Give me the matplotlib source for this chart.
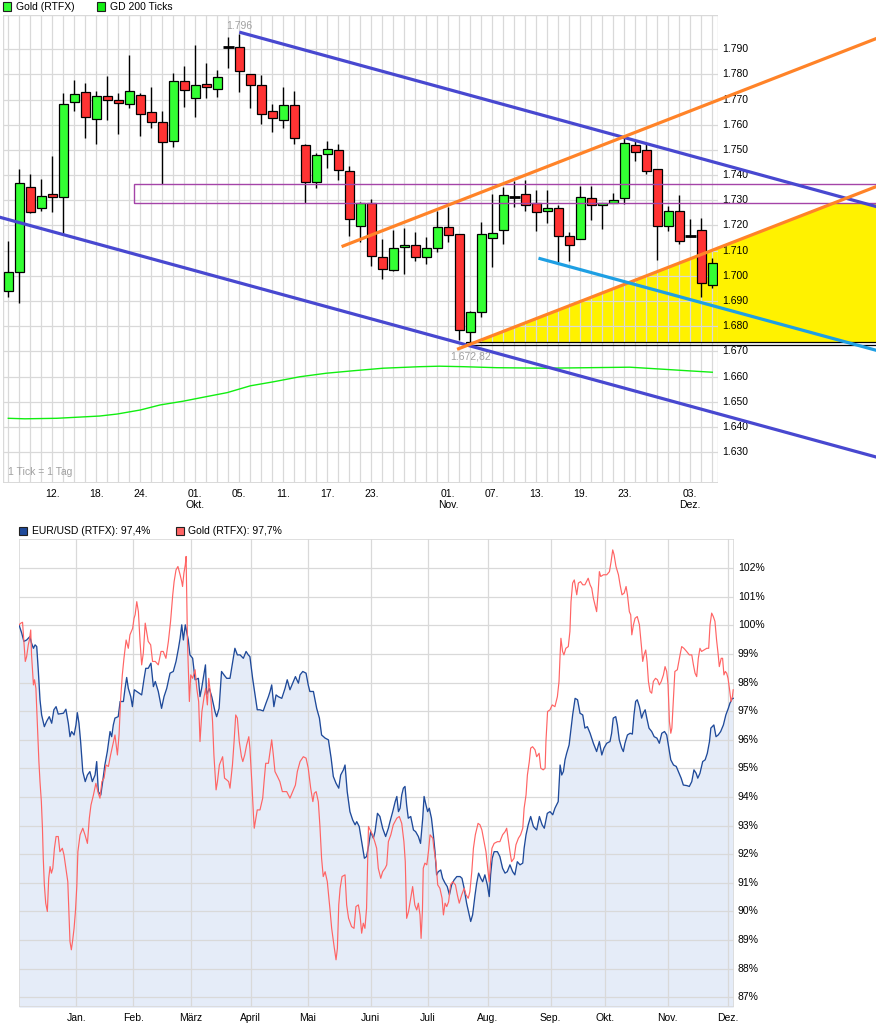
import matplotlib
matplotlib.use("Agg")
import matplotlib.pyplot as plt
from matplotlib.patches import Rectangle, Polygon
import numpy as np

plt.rcParams['font.family'] = ['Liberation Sans', 'DejaVu Sans']
FS = 7.5

# ---------------- data: Gold daily candles (Sep 6 - Dec 5, 2012) ----------------
opens = [1.6939, 1.7014, 1.7354, 1.7268, 1.7324, 1.7312, 1.7689, 1.7729, 1.7622, 1.7713,
         1.7700, 1.7681, 1.7717, 1.7650, 1.7610, 1.7534, 1.7773, 1.7705, 1.7761, 1.7741,
         1.7908, 1.7908, 1.7801, 1.7757, 1.7654, 1.7618, 1.7678, 1.7519, 1.7372, 1.7483,
         1.7499, 1.7416, 1.7198, 1.7291, 1.7076, 1.7022, 1.7113, 1.7121, 1.7074, 1.7109,
         1.7195, 1.7165, 1.6776, 1.6856, 1.7149, 1.7182, 1.7315, 1.7324, 1.7288, 1.7258,
         1.7268, 1.7157, 1.7145, 1.7308, 1.7280, 1.7291, 1.7308, 1.7519, 1.7499, 1.7423,
         1.7197, 1.7256, 1.7160, 1.7181, 1.6964]
highs = [1.7138, 1.7424, 1.7403, 1.7385, 1.7476, 1.7725, 1.7778, 1.7765, 1.7734, 1.7794,
         1.7725, 1.7877, 1.7725, 1.7750, 1.7655, 1.7805, 1.7832, 1.7917, 1.7846, 1.7818,
         1.7950, 1.7960, 1.7803, 1.7798, 1.7681, 1.7750, 1.7733, 1.7524, 1.7487, 1.7536,
         1.7525, 1.7436, 1.7293, 1.7305, 1.7146, 1.7182, 1.7191, 1.7174, 1.7154, 1.7259,
         1.7272, 1.7168, 1.6861, 1.7214, 1.7325, 1.7354, 1.7378, 1.7381, 1.7341, 1.7341,
         1.7281, 1.7175, 1.7357, 1.7357, 1.7290, 1.7330, 1.7546, 1.7537, 1.7527, 1.7425,
         1.7277, 1.7320, 1.7226, 1.7229, 1.7070]
lows = [1.6917, 1.6893, 1.7250, 1.7259, 1.7255, 1.7162, 1.7655, 1.7546, 1.7525, 1.7620,
        1.7562, 1.7668, 1.7557, 1.7589, 1.7364, 1.7510, 1.7672, 1.7632, 1.7705, 1.7709,
        1.7825, 1.7732, 1.7668, 1.7604, 1.7570, 1.7586, 1.7523, 1.7291, 1.7348, 1.7427,
        1.7381, 1.7159, 1.7136, 1.7039, 1.6986, 1.7020, 1.7007, 1.7060, 1.7047, 1.7096,
        1.7136, 1.6745, 1.67282, 1.6838, 1.7034, 1.7126, 1.7272, 1.7259, 1.7179, 1.7209,
        1.7056, 1.7060, 1.7145, 1.7222, 1.7187, 1.7290, 1.7284, 1.7457, 1.7405, 1.7063,
        1.7179, 1.7126, 1.7155, 1.6915, 1.6950]
closes = [1.7014, 1.7368, 1.7252, 1.7318, 1.7312, 1.7681, 1.7721, 1.7630, 1.7713, 1.7699,
          1.7685, 1.7733, 1.7642, 1.7610, 1.7530, 1.7773, 1.7737, 1.7757, 1.7749, 1.7789,
          1.7908, 1.7813, 1.7757, 1.7642, 1.7626, 1.7678, 1.7546, 1.7372, 1.7480, 1.7503,
          1.7419, 1.7226, 1.7291, 1.7079, 1.7026, 1.7109, 1.7121, 1.7076, 1.7109, 1.7193,
          1.7161, 1.6785, 1.6856, 1.7165, 1.7169, 1.7320, 1.7315, 1.7280, 1.7252, 1.7268,
          1.7159, 1.7121, 1.7312, 1.7280, 1.7288, 1.7300, 1.7527, 1.7491, 1.7418, 1.7197,
          1.7256, 1.7137, 1.7158, 1.6970, 1.7050]

# GD 200 (moving average), read at candle positions
ma_day = [0, 1.5, 4.4, 8.3, 9.9, 12, 13.8, 15.9, 18, 19.9, 22, 24.1, 26.5, 28.9, 31.4,
          34.1, 37.4, 39.2, 41.4, 44.4, 48.9, 56.5, 59.5, 61.7, 64]
ma_val = [1.6434, 1.6432, 1.6434, 1.6443, 1.6451, 1.6467, 1.6487, 1.6502, 1.6520, 1.6536,
          1.6563, 1.6579, 1.6599, 1.6613, 1.6623, 1.6633, 1.6639, 1.6641, 1.6639, 1.6635,
          1.6633, 1.6637, 1.6629, 1.6623, 1.6617]

top_tick_days = [4, 8, 12, 17, 21, 25, 29, 33, 40, 44, 48, 52, 56, 62]
top_tick_labels = ["12.", "18.", "24.", "01.\nOkt.", "05.", "11.", "17.", "23.",
                   "01.\nNov.", "07.", "13.", "19.", "23.", "03.\nDez."]
price_levels = [1.63, 1.64, 1.65, 1.66, 1.67, 1.68, 1.69, 1.70, 1.71, 1.72,
                1.73, 1.74, 1.75, 1.76, 1.77, 1.78, 1.79]

# drawn trend lines / zones (day index, price)
chan_hi_days, chan_hi_prices = [21.0, 79.0], [1.7968, 1.7274]
chan_lo_days, chan_lo_prices = [-0.8, 79.0], [1.7233, 1.6279]
orange_hi_days, orange_hi_prices = [30.3, 79.0], [1.7116, 1.7944]
orange_lo_days, orange_lo_prices = [40.8, 79.0], [1.6708, 1.7356]
cyan_days, cyan_prices = [48.2, 79.0], [1.7070, 1.6703]
zone_days, zone_prices = [11.45, 82.0], [1.7289, 1.7364]
lowbox_days, lowbox_prices = [41.6, 82.0], [1.6726, 1.6737]
peak_day, peak_price = 21, 1.796
low_day, low_price = 42, 1.67282

# ---------------- data: comparison chart (Dec 2011 - Dec 2012) ----------------
eur_day = [0.0, 1.0, 1.8, 2.8, 4.0, 4.6, 5.3, 5.9, 6.5, 7.1, 7.7, 8.3, 9.3, 10.1, 11.1, 12.0,
           12.8, 13.6, 14.4, 16.3, 17.2, 18.1, 18.7, 19.3, 20.2, 20.9, 21.4, 22.0, 22.6,
           23.4, 24.3, 25.1, 26.0, 26.9, 27.9, 28.5, 29.1, 30.0, 30.7, 31.5, 32.4, 33.4,
           34.0, 34.6, 35.2, 36.4, 37.1, 38.3, 38.9, 39.5, 40.1, 41.0, 41.6, 42.3, 43.2,
           44.1, 45.0, 45.9, 46.5, 47.4, 48.4, 49.3, 50.0, 51.1, 52.3, 53.2, 54.2, 55.4,
           56.6, 57.6, 58.5, 59.1, 59.7, 60.3, 61.0, 62.1, 62.7, 63.7, 64.6, 65.8, 66.4,
           67.0, 67.6, 68.4, 68.8, 69.8, 70.7, 71.9, 72.5, 73.4, 74.3, 75.2, 76.2, 77.4,
           78.4, 79.2, 80.1, 81.1, 82.3, 83.3, 84.1, 84.7,
           85.7, 86.6, 87.4, 88.4, 89.6, 90.6, 91.5, 92.1, 92.7, 93.5, 94.3, 95.1, 96.4,
           97.6, 98.4, 99.4, 100.4, 101.4, 102.5, 103.1, 104.1, 105.3, 106.1, 106.7, 108.0,
           109.2, 110.2, 111.0, 112.3, 113.5, 114.5, 115.3, 116.3, 117.3, 118.0, 119.0,
           119.6, 120.4, 121.4, 122.4, 123.3, 123.9, 124.8, 125.7, 126.7, 127.5, 128.3,
           129.0, 130.0, 130.6, 131.5, 132.4, 133.4, 134.5, 135.5, 136.1, 137.1, 138.0,
           138.6, 139.2, 139.8, 140.4, 141.0, 141.6, 142.2, 142.8, 143.7, 144.7, 145.5,
           146.5, 147.3, 148.1, 148.6, 149.3, 149.9, 150.5, 151.3, 152.0, 152.6, 153.2,
           153.8, 154.7, 155.4, 156.3, 157.1, 157.9, 158.7, 159.6, 160.6, 161.8, 162.5,
           163.3, 164.2, 165.0, 165.7, 166.4, 167.3, 167.9, 168.6, 169.4, 170.1, 170.9,
           171.8, 172.5, 173.0, 173.6, 174.3, 175.5,
           176.4, 177.4, 178.3, 179.1, 180.1, 181.1, 181.9, 182.8, 183.8, 184.8, 185.3,
           186.0, 186.8, 187.7, 188.7, 189.9, 190.9, 191.9, 192.7, 193.8, 194.8, 195.8,
           196.6, 197.8, 198.5, 199.1, 199.7, 200.3, 200.9, 201.8, 202.4, 203.1, 204.0,
           204.9, 205.8, 206.8, 207.6, 208.5, 209.5, 210.7, 211.9, 212.9, 213.8, 214.6,
           215.6, 216.8, 217.4, 218.0, 218.9, 219.5, 220.2, 221.1, 221.7, 222.3, 223.2,
           224.2, 225.0, 225.6, 226.2, 226.8, 227.6, 228.4, 229.0, 229.7, 230.3, 231.1,
           232.1, 233.0, 234.0, 234.9, 235.8, 236.8, 237.6, 238.2, 239.1, 240.1, 241.1,
           241.9, 242.9, 243.7, 245.0, 245.9, 246.8, 247.6, 248.4, 249.0, 249.8, 250.8,
           251.7, 252.5, 253.3, 253.8, 254.3, 254.9, 255.7, 256.5, 257.4, 258.4, 259.3,
           260.2, 260.8, 261.7, 262.0]
eur_pct = [100.02, 99.73, 99.44, 99.49, 99.61, 99.38, 99.20, 99.32, 99.26, 98.39, 97.40,
           96.87, 96.46, 96.64, 96.81, 96.58, 97.05, 97.16, 96.90, 96.93, 97.07, 96.58,
           96.11, 96.29, 96.17, 96.52, 96.95, 96.58, 95.94, 94.89, 94.54, 94.77, 94.89,
           94.54, 94.77, 95.24, 94.19, 94.07, 94.54, 95.12, 95.59, 96.29, 96.11, 96.52,
           96.76, 96.81, 97.34, 97.34, 97.80, 98.18, 97.80, 97.51, 97.16, 97.75, 97.69,
           97.63, 97.57, 98.15, 98.50, 98.50, 98.68, 97.86, 98.04, 97.69, 97.10, 97.51,
           97.80, 98.33, 98.39, 98.74, 99.20, 99.55, 100.02, 99.49, 100.02, 99.49, 98.97,
           98.85, 98.10, 98.15, 97.51, 97.80, 98.15, 98.62, 97.57, 97.80, 97.51, 96.99,
           96.81, 97.10, 98.39, 98.27, 98.15, 98.15, 98.74, 99.20, 98.97, 98.97, 98.85,
           99.09, 98.97, 98.91,
           98.15, 97.57, 97.05, 97.05, 97.01, 97.28, 97.51, 97.69, 97.92, 97.16, 97.57,
           97.51, 97.45, 97.80, 98.10, 97.75, 97.98, 98.21, 97.98, 98.27, 98.39, 98.33,
           97.92, 97.69, 97.69, 97.10, 96.76, 96.17, 96.06, 96.00, 95.36, 94.72, 94.48,
           94.31, 94.77, 94.95, 95.12, 94.19, 93.49, 93.20, 93.03, 93.14, 92.97, 92.44,
           91.86, 91.92, 92.33, 92.79, 92.56, 92.79, 93.43, 93.32, 92.91, 92.62, 92.91,
           93.14, 93.49, 93.84, 94.02, 93.49, 93.61, 94.07, 94.31, 94.37, 93.72, 93.26,
           93.32, 92.85, 92.79, 92.62, 92.38, 93.26, 94.02, 93.72, 93.49, 93.61, 93.26,
           92.68, 92.09, 91.28, 91.39, 91.45, 91.16, 90.99, 90.87, 90.58, 90.93, 91.10,
           91.22, 91.22, 91.16, 90.81, 90.29, 89.94, 89.65, 89.88, 90.58, 90.99, 91.34,
           91.16, 91.04, 91.28, 90.93, 90.52, 91.28, 91.86, 92.09, 92.09,
           91.92, 91.51, 91.34, 91.39, 91.63, 91.39, 91.28, 91.74, 91.63, 91.69, 92.21,
           92.68, 93.03, 93.32, 92.97, 92.85, 93.32, 93.03, 92.91, 93.43, 93.49, 93.38,
           93.61, 93.84, 95.12, 94.77, 94.89, 95.30, 95.53, 95.82, 96.29, 96.87, 97.45,
           97.40, 96.93, 96.87, 96.41, 96.46, 96.23, 95.88, 95.59, 95.94, 95.47, 95.71,
           95.88, 95.94, 96.23, 96.76, 96.81, 96.52, 96.00, 95.71, 95.59, 95.88, 96.17,
           96.23, 96.20, 96.87, 97.34, 97.40, 97.16, 96.76, 96.93, 97.05, 96.76, 96.41,
           96.29, 96.11, 96.06, 95.88, 96.23, 96.29, 96.17, 95.82, 95.30, 95.12, 95.07,
           94.89, 94.66, 94.42, 94.40, 94.37, 94.54, 94.95, 94.83, 94.66, 94.83, 95.24,
           95.30, 95.53, 95.94, 96.41, 96.46, 96.52, 96.11, 96.17, 96.29, 96.52, 96.87,
           97.10, 97.28, 97.45, 97.45]

gold_day = [0.0, 0.7, 1.3, 1.8, 2.3, 2.8, 3.4, 3.8, 4.3, 4.6, 5.3, 5.7, 6.2, 6.8, 7.3, 7.7,
            8.2, 8.6, 8.9, 9.3, 9.8, 10.4, 10.9, 11.4, 11.9, 12.4, 13.0, 13.6, 14.4, 15.0,
            15.9, 16.5, 17.2, 17.9, 18.2, 18.7, 19.2, 19.7, 20.2, 20.7, 21.2, 21.6, 22.4,
            23.4, 24.2, 25.1, 25.8, 26.4, 27.3, 28.2, 29.1, 29.7, 30.4, 31.2, 31.9, 32.8,
            33.6, 34.4, 35.2, 36.1, 36.7, 37.3, 37.9, 38.5, 39.3, 40.1, 40.7, 41.7, 42.2,
            42.6, 43.2, 43.8, 44.4, 45.0, 45.6, 46.3, 46.8, 47.4, 48.3, 49.0, 50.0, 51.1,
            52.1, 52.9, 53.9, 54.8, 55.6, 56.4, 56.9, 57.6, 58.3, 59.1, 59.7, 60.0, 60.5,
            61.0, 61.3, 61.8, 62.5, 63.0, 63.7, 64.6, 65.2, 65.9, 66.4, 67.1, 67.9, 68.5,
            69.1, 69.6, 70.3, 71.0, 71.5, 72.3, 72.8, 73.5, 74.0, 74.7, 75.4, 76.2, 76.9,
            77.4, 78.3, 78.9, 79.5, 80.1, 80.8, 81.6, 82.1, 82.8, 83.5, 84.3, 84.7,
            85.4, 86.0, 86.3, 86.9, 87.4, 88.4, 89.4, 89.9, 90.5, 91.5, 92.1, 92.7, 93.3,
            93.9, 94.8, 95.7, 96.6, 98.2, 99.4, 100.4, 101.4, 102.1, 103.1, 104.3, 105.3,
            106.1, 107.0, 107.8, 108.3, 109.0, 109.8, 110.4, 111.0, 111.6, 112.3, 113.1,
            114.1, 114.7, 115.6, 116.3, 116.8, 117.3, 117.8, 118.5, 119.6, 120.2, 120.9,
            122.0, 122.9, 123.6, 124.5, 125.1, 125.7, 126.3, 126.9, 127.5, 128.2, 128.8,
            129.7, 130.5, 131.2, 131.8, 132.7, 133.4, 134.3, 134.9, 135.5, 136.4, 137.3,
            138.6, 139.5, 140.4, 141.2, 141.7, 142.2, 142.9, 143.7, 144.4, 145.2, 145.9,
            146.5, 147.1, 147.5, 148.0, 148.3, 148.9, 149.6, 150.2, 150.8, 151.8, 152.2,
            153.0, 153.6, 154.4, 155.2, 155.7, 156.3, 156.9, 157.6, 158.3, 159.1, 160.1,
            160.8, 161.5, 162.4, 163.3, 164.0, 164.8, 165.4, 166.1, 166.7, 167.4, 168.4,
            169.1, 169.8, 170.6, 171.3, 171.8, 172.5, 173.0, 173.5, 174.3, 175.5,
            176.4, 177.4, 178.3, 178.9, 179.5, 180.1, 180.7, 181.6, 182.3, 183.2, 184.0,
            184.8, 185.3, 186.0, 186.5, 187.2, 187.7, 188.4, 189.3, 189.9, 190.8, 191.4,
            192.3, 193.0, 193.3, 193.9, 194.8, 195.6, 196.6, 197.5, 198.1, 198.5, 198.8,
            199.4, 199.9, 200.6, 201.5, 202.1, 202.5, 203.1, 203.7, 204.6, 205.2, 206.0,
            206.8, 207.6, 208.5, 208.8, 209.5, 210.1, 210.7, 211.3, 211.9, 212.5, 212.9,
            213.4, 214.4, 215.6, 216.6, 217.2, 217.8, 218.3, 219.0, 219.9, 220.5, 221.2,
            222.0, 222.7, 223.2, 223.9, 224.4, 224.8, 225.4, 226.0, 226.8, 227.6, 228.4,
            228.8, 229.3, 229.9, 230.4, 230.9, 231.5, 232.1, 232.7, 233.5, 234.2, 234.9,
            235.6, 236.4, 237.0, 237.6, 238.1, 238.6, 239.1, 239.5, 240.0, 240.6, 241.5,
            242.5, 243.1, 243.9, 244.9, 245.9, 246.8, 247.4, 248.0, 248.6, 249.2, 249.8,
            250.4, 251.3, 252.3, 253.0, 253.5, 254.1, 254.7, 255.3, 255.9, 256.5, 256.9,
            257.6, 258.1, 258.6, 259.1, 259.6, 260.1, 260.6, 261.2, 261.7, 262.0]
gold_pct = [100.02, 100.08, 100.11, 99.44, 98.74, 98.91, 99.32, 99.49, 99.84, 98.97, 97.92,
            98.10, 97.80, 96.41, 95.24, 94.54, 93.84, 92.91, 91.86, 90.93, 90.29, 90.00,
            91.16, 91.57, 91.34, 91.51, 92.21, 92.62, 92.62, 92.09, 92.21, 91.98, 91.51,
            91.04, 90.23, 88.95, 88.66, 89.00, 89.41, 90.00, 90.87, 92.09, 92.68, 92.91,
            92.68, 92.38, 93.26, 93.72, 94.07, 94.48, 94.13, 93.96, 94.54, 94.66, 95.12,
            95.07, 95.47, 95.82, 96.17, 95.47, 96.17, 97.45, 98.27, 98.85, 99.49, 99.20,
            99.67, 99.90, 100.25, 100.37, 100.83, 100.48, 99.44, 98.62, 99.03, 100.08,
            99.79, 99.44, 99.32, 98.74, 98.74, 98.62, 99.09, 99.09, 98.85, 99.44, 100.14,
            101.07, 101.53, 101.94, 102.06, 101.77, 101.53, 101.36, 101.83, 102.12, 102.41,
            99.44, 97.34, 98.27, 98.15, 98.45, 97.80, 97.34, 95.94, 96.99, 97.51, 97.80,
            97.22, 98.15, 97.57, 96.64, 95.47, 94.25, 94.54, 95.12, 95.24, 95.41, 94.66,
            94.60, 94.54, 94.31, 95.12, 95.94, 96.87, 96.76, 95.94, 95.41, 95.24, 95.47,
            95.82, 96.11, 95.71,
            94.54, 93.38, 92.91, 93.26, 93.55, 93.55, 93.96, 94.54, 95.18, 95.18, 95.59,
            96.00, 95.47, 94.89, 94.72, 94.54, 94.19, 94.19, 93.96, 94.19, 94.42, 94.89,
            95.24, 95.41, 95.36, 95.01, 94.31, 93.84, 94.13, 94.19, 93.84, 92.97, 91.86,
            91.22, 91.39, 91.04, 90.05, 89.41, 88.77, 88.31, 88.71, 90.23, 90.81, 91.22,
            91.28, 90.23, 89.76, 89.47, 89.41, 90.17, 90.23, 89.88, 89.24, 89.59, 89.41,
            90.11, 92.97, 92.85, 92.68, 92.44, 92.21, 91.51, 91.16, 91.39, 91.51, 91.63,
            92.44, 92.68, 93.03, 93.26, 93.32, 93.08, 92.44, 91.74, 89.76, 90.00, 90.46,
            90.87, 90.23, 90.05, 90.29, 89.88, 89.06, 90.05, 91.51, 91.69, 91.63, 92.09,
            92.68, 92.56, 92.21, 91.69, 90.93, 90.81, 90.46, 89.88, 90.29, 90.17, 90.34,
            90.93, 91.04, 90.93, 90.58, 90.29, 90.58, 90.81, 90.58, 90.46, 90.69, 91.39,
            92.21, 92.68, 93.08, 93.03, 92.85, 92.44, 92.09, 91.63, 91.04, 91.74, 92.21,
            92.38, 92.44,
            92.44, 92.68, 92.79, 92.91, 92.50, 92.09, 91.74, 91.86, 92.33, 92.56, 92.68,
            92.91, 93.61, 94.07, 94.77, 95.24, 95.71, 95.76, 95.65, 95.41, 95.53, 95.01,
            94.95, 95.01, 95.94, 96.99, 97.05, 97.22, 97.16, 97.51, 98.04, 98.97, 99.55,
            99.09, 98.97, 99.20, 99.26, 99.79, 100.83, 101.48, 101.59, 101.07, 101.48,
            101.53, 101.42, 101.42, 101.59, 101.65, 101.42, 101.30, 100.95, 100.72, 100.48,
            101.24, 101.88, 101.71, 101.77, 101.77, 101.88, 102.23, 102.64, 102.47, 102.06,
            101.77, 101.42, 101.07, 101.13, 101.36, 101.07, 100.48, 100.37, 99.67, 100.02,
            100.25, 100.31, 100.02, 99.20, 98.74, 98.97, 99.14, 98.74, 98.04, 97.69, 97.63,
            98.04, 98.15, 98.10, 97.92, 98.04, 98.27, 98.56, 98.39, 97.92, 96.64, 96.23,
            96.41, 97.34, 98.39, 98.45, 98.97, 99.26, 99.20, 99.09, 98.97, 98.97, 98.62,
            98.33, 98.21, 98.85, 99.20, 99.09, 99.14, 99.20, 99.20, 100.02, 100.43, 100.31,
            100.14, 99.49, 98.97, 98.56, 98.85, 98.85, 98.27, 98.39, 98.33, 98.15, 97.80,
            97.34, 97.51, 97.75]

month_days = [21, 42, 63, 85, 106, 129, 150, 172, 195, 215, 238, 260]
month_labels = ["Jan.", "Feb.", "März", "April", "Mai", "Juni", "Juli", "Aug.",
                "Sep.", "Okt.", "Nov.", "Dez."]
pct_levels = list(range(87, 103))

# ---------------- styles ----------------
W, H = 876, 1030
GRID = '#D9D9D9'
GREEN = '#33FF33'
RED = '#FF3333'
CHAN = '#4848D0'
ORANGE = '#FF8328'
CYAN = '#1E9FE3'
MAGENTA = '#A444A8'
YELLOW = '#FFF200'
GRAYTXT = '#A0A0A0'
EURC = '#1F4A9A'
GOLDC = '#FF6464'
FILLC = '#E5ECF8'

fig = plt.figure(figsize=(W / 100, H / 100), dpi=100)
fig.patch.set_facecolor('white')


def fx(x):
    return x / W


def fy(y):
    return 1 - y / H


# ================= top chart =================
L1, R1, T1, B1 = 2.5, 718.0, 15.0, 483.0
ax1 = fig.add_axes([fx(L1), fy(B1), (R1 - L1) / W, (B1 - T1) / H])
x_lo, x_hi = -0.527, 64.52
y_lo, y_hi = 1.6177, 1.8036
ax1.set_xlim(x_lo, x_hi)
ax1.set_ylim(y_lo, y_hi)
for s in ax1.spines.values():
    s.set_visible(False)

n = len(opens)
days = np.arange(n)

# grid
for d in days:
    ax1.axvline(d, color=GRID, lw=0.9, zorder=1)
for p in price_levels:
    ax1.axhline(p, color=GRID, lw=0.9, zorder=1)
ax1.axvline(x_lo, color=GRID, lw=1.0, zorder=1)
ax1.axvline(x_hi, color=GRID, lw=1.0, zorder=1)
ax1.axhline(y_hi, color=GRID, lw=1.0, zorder=1)
ax1.axhline(y_lo, color=GRID, lw=1.4, zorder=1)

# yellow zone bounded by rising support line and the zone bottom
lo_slope = (orange_lo_prices[1] - orange_lo_prices[0]) / (orange_lo_days[1] - orange_lo_days[0])
base = lowbox_prices[1]
cap = zone_prices[0]
d_start = orange_lo_days[0] + (base - orange_lo_prices[0]) / lo_slope
d_cap = orange_lo_days[0] + (cap - orange_lo_prices[0]) / lo_slope
poly = Polygon([(d_start, base), (d_cap, cap), (82, cap), (82, base)], closed=True,
               facecolor=YELLOW, edgecolor='none', zorder=0.5, clip_on=False)
ax1.add_patch(poly)

# moving average
ax1.plot(ma_day, ma_val, color='#11EE11', lw=1.0, zorder=2)

# candles
o = np.array(opens); c = np.array(closes)
ax1.vlines(days, lows, highs, color='black', lw=1.0, zorder=3)
for i in range(n):
    if abs(c[i] - o[i]) < 0.0003:
        ax1.hlines(o[i], i - 0.52, i + 0.52, color='black', lw=2.0, zorder=4)
    else:
        col = GREEN if c[i] > o[i] else RED
        ax1.bar(i, abs(c[i] - o[i]), bottom=min(o[i], c[i]), width=0.86,
                color=col, edgecolor='black', lw=0.9, zorder=4)

# drawings
ax1.add_patch(Rectangle((zone_days[0], zone_prices[0]), zone_days[1] - zone_days[0],
                        zone_prices[1] - zone_prices[0], fill=False, edgecolor=MAGENTA,
                        lw=1.0, zorder=5, clip_on=False))
ax1.add_patch(Rectangle((lowbox_days[0], lowbox_prices[0]), lowbox_days[1] - lowbox_days[0],
                        lowbox_prices[1] - lowbox_prices[0], fill=False, edgecolor='black',
                        lw=0.9, zorder=5, clip_on=False))
for dd, pp, col in [(chan_hi_days, chan_hi_prices, CHAN), (chan_lo_days, chan_lo_prices, CHAN),
                    (orange_hi_days, orange_hi_prices, ORANGE),
                    (orange_lo_days, orange_lo_prices, ORANGE),
                    (cyan_days, cyan_prices, CYAN)]:
    ax1.plot(dd, pp, color=col, lw=2.3, zorder=6, clip_on=False, solid_capstyle='butt')

ax1.text(peak_day, peak_price + 0.0033, "1.796", color=GRAYTXT, fontsize=FS,
         ha='center', va='center', zorder=7)
ax1.text(low_day, low_price - 0.0047, "1.672,82", color=GRAYTXT, fontsize=FS,
         ha='center', va='center', zorder=7)
ax1.text(0.008, 0.013, "1 Tick = 1 Tag", color=GRAYTXT, fontsize=FS,
         ha='left', va='bottom', transform=ax1.transAxes, zorder=7)

ax1.set_yticks([])
ax1.set_xticks(top_tick_days)
ax1.set_xticklabels(top_tick_labels, fontsize=FS, linespacing=1.15)
ax1.tick_params(axis='x', length=0, pad=4.3)
for p in price_levels:
    ax1.text(1.0058, p, f"{p:.3f}", transform=ax1.get_yaxis_transform(),
             ha='left', va='center', fontsize=FS, clip_on=False)

# ================= bottom chart =================
L2, R2, T2, B2 = 19.0, 734.3, 539.3, 1007.3
ax2 = fig.add_axes([fx(L2), fy(B2), (R2 - L2) / W, (B2 - T2) / H])
ylo2, yhi2 = 86.65, 103.01
ax2.set_xlim(0, 262.4)
ax2.set_ylim(ylo2, yhi2)
for s in ax2.spines.values():
    s.set_visible(False)

ax2.fill_between(eur_day, eur_pct, ylo2, color=FILLC, lw=0, zorder=0.5)
for p in pct_levels:
    ax2.axhline(p, color=GRID, lw=0.9, zorder=1)
for d in month_days:
    ax2.axvline(d, color=GRID, lw=0.9, zorder=1)
ax2.axvline(0, color=GRID, lw=1.2, zorder=1)
ax2.axvline(262.4, color=GRID, lw=1.2, zorder=1)
ax2.axhline(ylo2, color=GRID, lw=1.2, zorder=1)
ax2.axhline(yhi2, color=GRID, lw=1.2, zorder=1)

ax2.plot(eur_day, eur_pct, color=EURC, lw=0.95, zorder=3)
ax2.plot(gold_day, gold_pct, color=GOLDC, lw=0.85, zorder=4)

ax2.set_yticks([])
ax2.set_xticks(month_days)
ax2.set_xticklabels(month_labels, fontsize=FS)
ax2.tick_params(axis='x', length=0, pad=3.8)
for p in pct_levels:
    ax2.text(1.0048, p, f"{p}%", transform=ax2.get_yaxis_transform(),
             ha='left', va='center', fontsize=FS, clip_on=False)

# ================= legends =================
def legend_item(x, y, color, label):
    fig.add_artist(Rectangle((fx(x), fy(y + 8)), 8 / W, 8 / H, transform=fig.transFigure,
                             facecolor=color, edgecolor='#202020', lw=0.8))
    fig.text(fx(x + 12.5), fy(y + 4.2), label, fontsize=FS, ha='left', va='center')

legend_item(3, 2.5, GREEN, "Gold (RTFX)")
legend_item(97, 2.5, '#11EE11', "GD 200 Ticks")
legend_item(19, 526.5, EURC, "EUR/USD (RTFX): 97,4%")
legend_item(175.5, 526.5, GOLDC, "Gold (RTFX): 97,7%")

fig.savefig("out.png", dpi=100, facecolor='white')
